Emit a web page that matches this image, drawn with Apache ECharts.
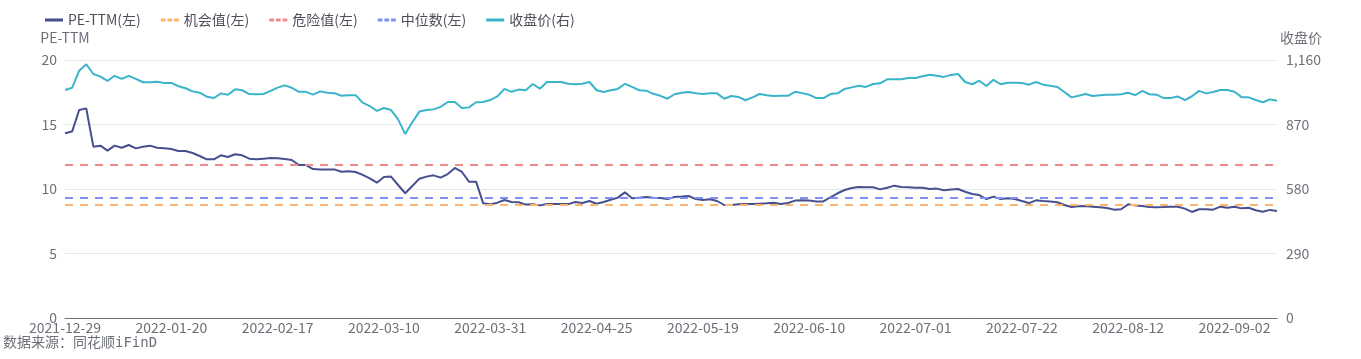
<!DOCTYPE html>
<html>
<head>
<meta charset="utf-8">
<script src="https://cdn.jsdelivr.net/npm/echarts@6/dist/echarts.min.js"></script>
<style>
html,body{margin:0;padding:0;background:#fff;}
#chart{width:1361px;height:359px;}
</style>
</head>
<body>
<div id="chart"></div>
<script>
const dates = [
"2021-12-29","2021-12-30","2021-12-31",
"2022-01-04","2022-01-05","2022-01-06","2022-01-07",
"2022-01-10","2022-01-11","2022-01-12","2022-01-13","2022-01-14",
"2022-01-17","2022-01-18","2022-01-19","2022-01-20","2022-01-21",
"2022-01-24","2022-01-25","2022-01-26","2022-01-27","2022-01-28",
"2022-02-07","2022-02-08","2022-02-09","2022-02-10","2022-02-11",
"2022-02-14","2022-02-15","2022-02-16","2022-02-17","2022-02-18",
"2022-02-21","2022-02-22","2022-02-23","2022-02-24","2022-02-25",
"2022-02-28","2022-03-01","2022-03-02","2022-03-03","2022-03-04",
"2022-03-07","2022-03-08","2022-03-09","2022-03-10","2022-03-11",
"2022-03-14","2022-03-15","2022-03-16","2022-03-17","2022-03-18",
"2022-03-21","2022-03-22","2022-03-23","2022-03-24","2022-03-25",
"2022-03-28","2022-03-29","2022-03-30","2022-03-31","2022-04-01",
"2022-04-06","2022-04-07","2022-04-08",
"2022-04-11","2022-04-12","2022-04-13","2022-04-14","2022-04-15",
"2022-04-18","2022-04-19","2022-04-20","2022-04-21","2022-04-22",
"2022-04-25","2022-04-26","2022-04-27","2022-04-28","2022-04-29",
"2022-05-05","2022-05-06",
"2022-05-09","2022-05-10","2022-05-11","2022-05-12","2022-05-13",
"2022-05-16","2022-05-17","2022-05-18","2022-05-19","2022-05-20",
"2022-05-23","2022-05-24","2022-05-25","2022-05-26","2022-05-27",
"2022-05-30","2022-05-31","2022-06-01","2022-06-02",
"2022-06-06","2022-06-07","2022-06-08","2022-06-09","2022-06-10",
"2022-06-13","2022-06-14","2022-06-15","2022-06-16","2022-06-17",
"2022-06-20","2022-06-21","2022-06-22","2022-06-23","2022-06-24",
"2022-06-27","2022-06-28","2022-06-29","2022-06-30","2022-07-01",
"2022-07-04","2022-07-05","2022-07-06","2022-07-07","2022-07-08",
"2022-07-11","2022-07-12","2022-07-13","2022-07-14","2022-07-15",
"2022-07-18","2022-07-19","2022-07-20","2022-07-21","2022-07-22",
"2022-07-25","2022-07-26","2022-07-27","2022-07-28","2022-07-29",
"2022-08-01","2022-08-02","2022-08-03","2022-08-04","2022-08-05",
"2022-08-08","2022-08-09","2022-08-10","2022-08-11","2022-08-12",
"2022-08-15","2022-08-16","2022-08-17","2022-08-18","2022-08-19",
"2022-08-22","2022-08-23","2022-08-24","2022-08-25","2022-08-26",
"2022-08-29","2022-08-30","2022-08-31","2022-09-01","2022-09-02",
"2022-09-05","2022-09-06","2022-09-07","2022-09-08","2022-09-09",
"2022-09-13"
];

const peTTM = [
14.32,14.45,16.12,16.25,13.28,13.36,12.97,13.36,13.20,13.41,
13.15,13.28,13.36,13.20,13.15,13.10,12.95,12.95,12.79,12.56,
12.30,12.30,12.61,12.48,12.69,12.61,12.35,12.30,12.35,12.40,
12.38,12.33,12.25,11.86,11.86,11.55,11.52,11.52,11.52,11.34,
11.37,11.32,11.09,10.83,10.49,10.93,10.96,10.31,9.67,10.23,
10.80,10.96,11.06,10.88,11.16,11.63,11.32,10.57,10.57,8.89,
8.81,8.94,9.15,8.99,8.97,8.79,8.81,8.73,8.83,8.83,
8.83,8.83,8.99,8.91,9.07,8.86,8.99,9.17,9.33,9.74,
9.28,9.33,9.38,9.33,9.30,9.22,9.38,9.41,9.46,9.22,
9.15,9.20,9.07,8.76,8.76,8.81,8.83,8.83,8.86,8.89,
8.94,8.83,8.91,9.10,9.12,9.10,9.04,9.04,9.36,9.67,
9.92,10.08,10.16,10.13,10.13,9.97,10.10,10.26,10.16,10.13,
10.10,10.10,10.00,10.03,9.90,9.97,10.00,9.79,9.61,9.53,
9.22,9.41,9.22,9.28,9.22,9.07,8.91,9.12,9.07,9.04,
8.97,8.76,8.60,8.66,8.68,8.63,8.58,8.53,8.40,8.43,
8.81,8.73,8.68,8.60,8.58,8.60,8.63,8.63,8.48,8.22,
8.43,8.43,8.40,8.63,8.55,8.63,8.50,8.55,8.35,8.24,
8.38,8.30
];

const closePrice = [
1025,1035,1112,1141,1097,1085,1066,1089,1075,1089,
1075,1060,1060,1062,1057,1057,1042,1033,1019,1013,
995,989,1010,1004,1028,1024,1007,1006,1007,1021,
1036,1046,1035,1017,1017,1004,1019,1013,1011,999,
1002,1002,968,953,931,944,935,893,827,880,
928,935,938,949,971,971,944,947,970,971,
980,996,1030,1017,1027,1024,1052,1031,1061,1061,
1061,1053,1051,1053,1061,1024,1016,1024,1030,1053,
1039,1024,1022,1008,999,986,1006,1013,1016,1011,
1007,1011,1010,986,998,994,979,992,1007,1002,
998,999,999,1017,1011,1004,989,989,1007,1010,
1030,1037,1044,1039,1052,1055,1073,1073,1073,1079,
1079,1087,1094,1089,1084,1093,1097,1061,1051,1067,
1043,1071,1051,1058,1058,1057,1049,1061,1049,1044,
1039,1016,992,999,1007,998,1002,1004,1004,1006,
1013,1002,1021,1006,1004,989,989,996,980,997,
1021,1010,1016,1025,1025,1017,993,992,980,970,
983,977
];

const opportunityValue = 8.79;
const dangerValue = 11.86;
const medianValue = 9.36;

const leftTicks = { min: 0, max: 20, interval: 5 };
const rightTicks = { min: 0, max: 1160, interval: 290 };

const names = ["PE-TTM(左)", "机会值(左)", "危险值(左)", "中位数(左)", "收盘价(右)"];
const colors = { pe: "#474f8e", opp: "#fdb46f", danger: "#f38a8a", median: "#7f8ff5", price: "#3bb4cb" };

const solidIcon = 'rect';
const dottedIcon = 'path://M0,0h5v3h-5z M7,0h5v3h-5z M14,0h5v3h-5z';

const chart = echarts.init(document.getElementById('chart'), null, { renderer: 'canvas' });

function refSeries(name, value, color) {
  return {
    name: name,
    type: 'line',
    yAxisIndex: 0,
    data: [],
    symbol: 'none',
    lineStyle: { color: color, width: 2, type: [8, 7] },
    itemStyle: { color: color },
    markLine: {
      silent: true,
      symbol: 'none',
      label: { show: false },
      lineStyle: { color: color, width: 2, type: [8, 7] },
      data: [{ yAxis: value }]
    }
  };
}

const option = {
  animation: false,
  backgroundColor: '#fff',
  textStyle: { fontFamily: '"Noto Sans CJK SC", "Noto Sans", sans-serif' },
  legend: {
    left: 40,
    top: 8,
    itemWidth: 18,
    itemHeight: 3,
    itemGap: 20,
    textStyle: { color: '#4f4f5c', fontSize: 14 },
    data: [
      { name: names[0], icon: solidIcon, itemStyle: { color: colors.pe } },
      { name: names[1], icon: dottedIcon, itemStyle: { color: colors.opp } },
      { name: names[2], icon: dottedIcon, itemStyle: { color: colors.danger } },
      { name: names[3], icon: dottedIcon, itemStyle: { color: colors.median } },
      { name: names[4], icon: solidIcon, itemStyle: { color: colors.price } }
    ]
  },
  grid: { left: 65, right: 84, top: 60, bottom: 41, containLabel: false },
  xAxis: {
    type: 'category',
    data: dates,
    boundaryGap: false,
    axisLine: { lineStyle: { color: '#6E7079' } },
    axisTick: { show: false },
    axisLabel: { interval: 14, color: '#6E7079', fontSize: 14, margin: 3 }
  },
  yAxis: [
    {
      type: 'value',
      name: 'PE-TTM',
      nameGap: 15,
      nameTextStyle: { color: '#6E7079', fontSize: 14 },
      min: leftTicks.min, max: leftTicks.max, interval: leftTicks.interval,
      axisLine: { show: false },
      axisTick: { show: false },
      axisLabel: { color: '#6E7079', fontSize: 14, margin: 8 },
      splitLine: { lineStyle: { color: '#E6E6F2' } }
    },
    {
      type: 'value',
      name: '收盘价',
      nameGap: 15,
      nameTextStyle: { color: '#6E7079', fontSize: 14, align: 'left', padding: [0, 0, 0, 3] },
      min: rightTicks.min, max: rightTicks.max, interval: rightTicks.interval,
      position: 'right',
      axisLine: { show: false },
      axisTick: { show: false },
      axisLabel: { color: '#6E7079', fontSize: 14, margin: 9, formatter: v => v.toLocaleString('en-US') },
      splitLine: { show: false }
    }
  ],
  series: [
    {
      name: names[0], type: 'line', yAxisIndex: 0, data: peTTM,
      symbol: 'none', lineStyle: { color: colors.pe, width: 2 }, itemStyle: { color: colors.pe }
    },
    refSeries(names[1], opportunityValue, colors.opp),
    refSeries(names[2], dangerValue, colors.danger),
    refSeries(names[3], medianValue, colors.median),
    {
      name: names[4], type: 'line', yAxisIndex: 1, data: closePrice,
      symbol: 'none', lineStyle: { color: colors.price, width: 2 }, itemStyle: { color: colors.price }
    }
  ],
  graphic: [
    {
      type: 'text',
      left: 3,
      top: 336,
      style: {
        text: '数据来源：同花顺iFinD',
        fill: '#6E7079',
        font: '14px "DejaVu Sans Mono", "Noto Sans CJK SC", monospace'
      }
    }
  ]
};

chart.setOption(option);
</script>
</body>
</html>
